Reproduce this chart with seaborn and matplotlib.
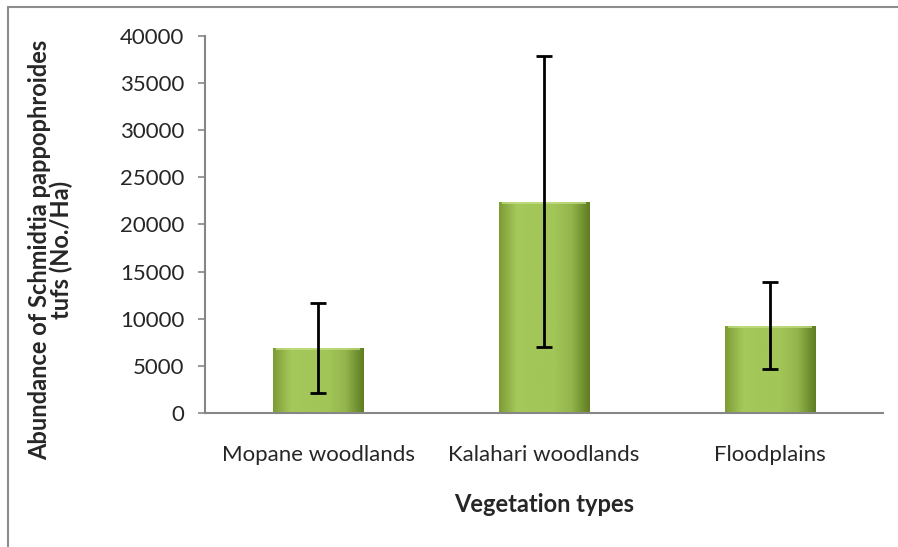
import numpy as np
import pandas as pd
import matplotlib
matplotlib.use("Agg")
import matplotlib.pyplot as plt
from matplotlib.colors import LinearSegmentedColormap
from matplotlib.lines import Line2D
import seaborn as sns

# Data
vegetation = ["Mopane woodlands", "Kalahari woodlands", "Floodplains"]
abundance = [6900, 22400, 9250]
error = [4750, 15450, 4600]

df = pd.DataFrame({"Vegetation": vegetation, "Abundance": abundance, "Err": error})

sns.set_style("white")
plt.rcParams["font.family"] = ["Lato", "DejaVu Sans"]

fig = plt.figure(figsize=(8.98, 5.47), dpi=100)
ax = fig.add_axes([205 / 898, 1 - 413 / 547, 678 / 898, 377 / 547])

sns.barplot(data=df, x="Vegetation", y="Abundance", color="#9bbb59",
            width=0.4, errorbar=None, ax=ax)

# bevel-like gradient fill for each bar
cmap = LinearSegmentedColormap.from_list(
    "bevel", ["#7d9c36", "#a6c95c", "#a3c658", "#a3c658", "#93b54c", "#5f7d22"])
xs = np.linspace(0, 1, 200)
for patch in ax.patches:
    x0, y0 = patch.get_x(), patch.get_y()
    w, h = patch.get_width(), patch.get_height()
    grad = np.tile(xs, (100, 1))
    im = ax.imshow(grad, cmap=cmap, aspect="auto", extent=[x0, x0 + w, y0, y0 + h],
                   origin="lower", zorder=2)
    im.set_clip_path(patch)
    patch.set_facecolor("none")
    patch.set_edgecolor("none")
    # light top band
    ax.fill_between([x0 + w * 0.04, x0 + w * 0.96], y0 + h - 250, y0 + h,
                    color="#c6e286", alpha=0.7, lw=0, zorder=3)

ax.errorbar(range(len(vegetation)), abundance, yerr=error, fmt="none",
            ecolor="black", elinewidth=2, capsize=6, capthick=2, zorder=4)

ax.set_xlim(-0.5, 2.5)
ax.set_ylim(0, 40000)
ax.set_yticks(range(0, 40001, 5000))
ax.tick_params(axis="y", labelsize=16, length=5, width=1.2, color="#868686",
               direction="out", left=True, pad=10)
ax.tick_params(axis="x", labelsize=16, length=0, pad=23)
for s in ["top", "right"]:
    ax.spines[s].set_visible(False)
for s in ["left", "bottom"]:
    ax.spines[s].set_color("#868686")
    ax.spines[s].set_linewidth(1.5)

ax.set_xlabel("Vegetation types", fontsize=17, fontweight="bold", labelpad=20)
ax.set_ylabel("Abundance of Schmidtia pappophroides\ntufs (No./Ha)",
              fontsize=17, fontweight="bold", linespacing=0.9)
ax.yaxis.set_label_coords(-0.195, 0.432)

# chart area border
fig.add_artist(Line2D([8 / 898, 8 / 898], [0, 1 - 7 / 547], color="#8c8c8c", lw=1.5))
fig.add_artist(Line2D([8 / 898, 1], [1 - 7 / 547, 1 - 7 / 547], color="#8c8c8c", lw=1.5))

fig.savefig("out.png", dpi=100)
